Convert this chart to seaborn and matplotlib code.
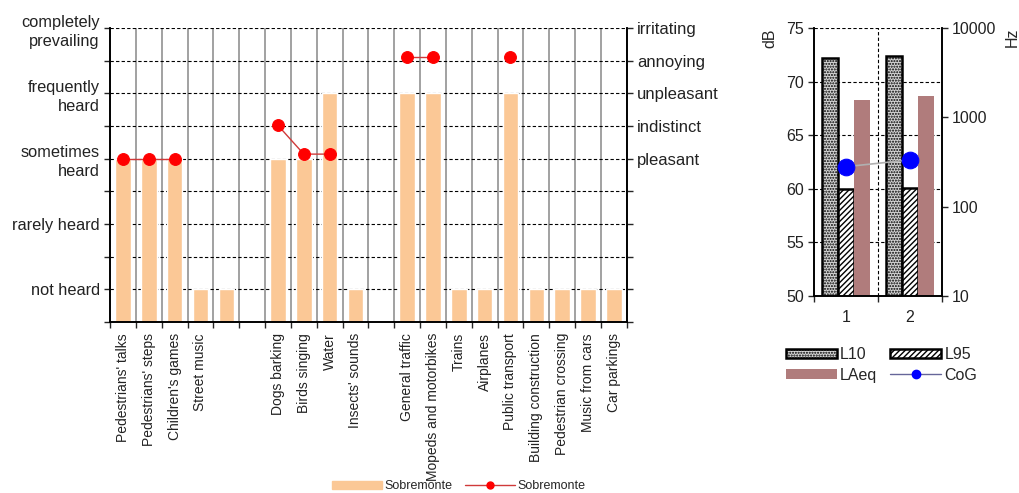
import numpy as np
import pandas as pd
import matplotlib
matplotlib.use("Agg")
import matplotlib.pyplot as plt
import matplotlib.patches as mpatches
import matplotlib.lines as mlines
import seaborn as sns

# --- data: left panel (sound sources, Sobremonte) ---
sources = ["Pedestrians' talks", "Pedestrians' steps", "Children's games", "Street music", "", "",
           "Dogs barking", "Birds singing", "Water", "Insects' sounds", "",
           "General traffic", "Mopeds and motorbikes", "Trains", "Airplanes", "Public transport",
           "Building construction", "Pedestrian crossing", "Music from cars", "Car parkings"]
presence = [5, 5, 5, 1, 1, np.nan, 5, 5, 7, 1, np.nan, 7, 7, 1, 1, 7, 1, 1, 1, 1]
# perception scale: 1 pleasant ... 5 irritating
perception = [1, 1, 1, np.nan, np.nan, np.nan, 2.02, 1.14, 1.14, np.nan, np.nan,
              4.12, 4.12, np.nan, np.nan, 4.12, np.nan, np.nan, np.nan, np.nan]
presence_ticks = [1, 3, 5, 7, 9]
presence_labels = ["not heard", "rarely heard", "sometimes\nheard", "frequently\nheard",
                   "completely\nprevailing"]
perception_ticks = [1, 2, 3, 4, 5]
perception_labels = ["pleasant", "indistinct", "unpleasant", "annoying", "irritating"]

# --- data: right panel (levels) ---
points = [1, 2]
L10 = [72.2, 72.4]
L95 = [59.95, 60.1]
LAeq = [68.3, 68.7]
CoG = [280, 333]

sns.set_style("white")
plt.rcParams['font.family'] = ['Liberation Sans', 'DejaVu Sans']

fig = plt.figure(figsize=(10.19, 4.93), dpi=100)
ax = fig.add_axes([0.108, 0.347, 0.507, 0.596])
ax_r = ax.twinx()

pos = np.arange(len(sources))
df = pd.DataFrame({'pos': pos, 'presence': presence, 'perception': perception})

peach = '#FBC896'
sns.barplot(data=df, x='pos', y='presence', native_scale=True, width=0.6,
            color=peach, saturation=1, ax=ax, zorder=2)

# red line broken where no answer
df['seg'] = df['perception'].isna().cumsum()
line_df = df.dropna(subset=['perception'])
sns.lineplot(data=line_df, x='pos', y='perception', units='seg', estimator=None,
             color='#d03a3a', lw=1, marker='o', markersize=8.5,
             markerfacecolor='red', markeredgecolor='red', ax=ax_r, zorder=3)

ax.set_xlim(-0.5, len(sources) - 0.5)
ax.set_ylim(0, 9)
ax_r.set_ylim(-4, 5)

# grids
for b in np.arange(-0.5, len(sources) + 0.5, 1):
    ax.axvline(b, color='#9a9a9a', lw=1.3, zorder=1)
for lv in range(1, 10):
    ax.axhline(lv, color='black', lw=0.8, ls=(0, (3, 2)), zorder=1.5)

ax.set_xticks(pos)
ax.set_xticklabels(sources, rotation=90, fontsize=10, color='#222222')
ax.set_xticks(np.arange(-0.5, len(sources), 1), minor=True)
ax.tick_params(axis='x', which='major', length=0, pad=8)
ax.tick_params(axis='x', which='minor', length=4, width=1, direction='out', bottom=True)
ax.set_yticks(range(0, 10), minor=True)
ax.set_yticks(presence_ticks)
ax.set_yticklabels(presence_labels, fontsize=11.8, color='#222222', linespacing=1.35)
ax.tick_params(axis='y', which='both', length=4, width=1, direction='out', left=True)
ax_r.set_yticks(range(-4, 6), minor=True)
ax_r.set_yticks(perception_ticks)
ax_r.set_yticklabels(perception_labels, fontsize=12, color='#222222')
ax_r.tick_params(axis='y', which='both', length=4, width=1, direction='out', right=True)
ax.set_xlabel('')
ax.set_ylabel('')
ax_r.set_ylabel('')
for a in (ax, ax_r):
    a.spines['top'].set_visible(False)
    for s in ('left', 'right', 'bottom'):
        a.spines[s].set_color('black')
        a.spines[s].set_linewidth(1.2)

h_bar = mpatches.Patch(color=peach, label='Sobremonte')
h_line = mlines.Line2D([], [], color='#d03a3a', lw=1, marker='o', markersize=5,
                       markerfacecolor='red', markeredgecolor='red', label='Sobremonte')
fig.legend(handles=[h_bar, h_line], loc='center', bbox_to_anchor=(0.45, 0.014), ncol=2,
           frameon=False, fontsize=9, handlelength=4, handleheight=0.6, columnspacing=1.0,
           handletextpad=0.2)

# --- right panel ---
axb = fig.add_axes([0.799, 0.400, 0.125, 0.543])
axb2 = axb.twinx()

lv = pd.DataFrame({
    'point': np.repeat(points, 3),
    'metric': ['L10', 'L95', 'LAeq'] * len(points),
    'dB': np.ravel(np.column_stack([L10, L95, LAeq])),
})
colors = {'L10': '#d6d6d6', 'L95': 'white', 'LAeq': '#b07c7c'}
sns.barplot(data=lv, x='point', y='dB', hue='metric', palette=colors, saturation=1,
            width=0.75, gap=0, ax=axb, legend=False, zorder=2)
styles = {'L10': ('......', 'black', 1.8), 'L95': ('//////', 'black', 1.8),
          'LAeq': (None, 'none', 0)}
for cont, m in zip(axb.containers, ['L10', 'L95', 'LAeq']):
    h, ec, lw = styles[m]
    for p in cont:
        p.set_hatch(h)
        p.set_edgecolor(ec)
        p.set_linewidth(lw)

cog_df = pd.DataFrame({'x': [0, 1], 'CoG': CoG})
sns.lineplot(data=cog_df, x='x', y='CoG', color='#b0b0b0', lw=1.2, marker='o',
             markersize=12, markerfacecolor='#0000ff', markeredgecolor='#0000ff',
             ax=axb2, zorder=3)
axb2.set_yscale('log')
axb2.set_ylim(10, 10000)
axb2.minorticks_off()
axb2.set_yticks([10, 100, 1000, 10000])
axb2.set_yticklabels(['10', '100', '1000', '10000'], fontsize=11.5, color='#222222')

axb.set_xlim(-0.5, 1.5)
axb.set_ylim(50, 75)
axb.set_yticks([50, 55, 60, 65, 70, 75])
axb.set_yticklabels(['50', '55', '60', '65', '70', '75'], fontsize=11.5, color='#222222')
axb.set_xticks([0, 1])
axb.set_xticklabels([str(p) for p in points], fontsize=11.5, color='#222222')
axb.set_xticks([-0.5, 0.5, 1.5], minor=True)
axb.tick_params(axis='x', which='major', length=0, pad=10)
axb.tick_params(axis='x', which='minor', length=4, width=1, direction='out', bottom=True)
axb.tick_params(axis='y', length=4, width=1, direction='out', left=True)
axb2.tick_params(axis='y', length=4, width=1, direction='out', right=True)
for y in [55, 60, 65, 70, 75]:
    axb.axhline(y, color='black', lw=0.8, ls=(0, (3, 2)), zorder=1)
axb.axvline(0.5, color='black', lw=0.8, ls=(0, (3, 2)), zorder=1)
axb.set_xlabel('')
axb2.set_xlabel('')
axb.set_ylabel('dB', loc='top', fontsize=11.5, labelpad=6)
axb2.set_ylabel('Hz', loc='top', fontsize=11.5, labelpad=6)
for a in (axb, axb2):
    a.spines['top'].set_visible(False)
    for s in ('left', 'right', 'bottom'):
        a.spines[s].set_color('black')
        a.spines[s].set_linewidth(1.2)

hl = [mpatches.Patch(facecolor=colors['L10'], hatch='......', edgecolor='black', lw=1.8, label='L10'),
      mpatches.Patch(facecolor=colors['LAeq'], edgecolor='none', label='LAeq'),
      mpatches.Patch(facecolor='white', hatch='//////', edgecolor='black', lw=1.8, label='L95'),
      mlines.Line2D([], [], color='#666699', lw=1, marker='o', markersize=6,
                    markerfacecolor='#0000ff', markeredgecolor='#0000ff', label='CoG')]
fig.legend(handles=hl, loc='center', bbox_to_anchor=(0.865, 0.26), ncol=2, frameon=False,
           fontsize=11.5, handlelength=3.2, handleheight=0.55, columnspacing=0.8,
           handletextpad=0.2, labelspacing=0.35)

fig.savefig('out.png', dpi=100)
